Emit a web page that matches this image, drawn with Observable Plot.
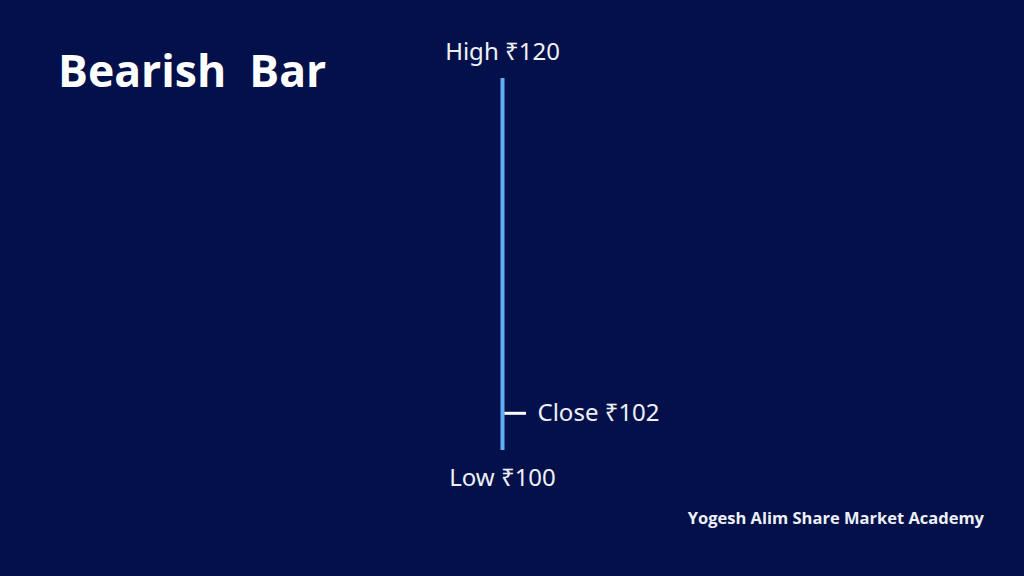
<!DOCTYPE html>
<html>
<head>
<meta charset="utf-8">
<script src="https://cdn.jsdelivr.net/npm/d3@7"></script>
<script src="https://cdn.jsdelivr.net/npm/@observablehq/plot@0.6"></script>
<style>
  html, body { margin: 0; padding: 0; background: #03104a; }
  #wrap { position: relative; width: 1024px; height: 576px; overflow: hidden; background: #03104a; }
  #title { position: absolute; left: 58px; top: 43px; font-family: "Open Sans", sans-serif; font-weight: 700; font-size: 44.5px; color: #ffffff; white-space: pre; line-height: 1.2; }
  #credit { position: absolute; right: 40px; top: 506px; font-family: "Open Sans", sans-serif; font-weight: 700; font-size: 16.5px; color: #eef0f8; white-space: pre; }
  #chart { position: absolute; left: 0; top: 0; }
</style>
</head>
<body>
<div id="wrap">
  <div id="chart"></div>
  <div id="title">Bearish  Bar</div>
  <div id="credit">Yogesh Alim Share Market Academy</div>
</div>
<script>
const labels = ["High", "Low", "Close"];
const prices = [120, 100, 102];
const currency = "₹";

const bar = { high: prices[0], low: prices[1], close: prices[2] };
const data = [bar];

const plot = Plot.plot({
  width: 1024,
  height: 576,
  margin: 0,
  style: { background: "transparent", fontFamily: "'Noto Sans', sans-serif", overflow: "visible" },
  x: { type: "linear", domain: [0, 1], range: [502, 526], axis: null },
  y: { type: "linear", domain: [bar.low, bar.high], range: [450, 78], axis: null },
  marks: [
    Plot.ruleX(data, { x: 0, y1: "low", y2: "high", stroke: "#62aef6", strokeWidth: 4 }),
    Plot.ruleY(data, { y: "close", x1: 0.1, x2: 1, stroke: "#ffffff", strokeWidth: 3 }),
    Plot.text(data, { x: 0, y: "high", text: d => `${labels[0]} ${currency}${d.high}`, dy: -26, fill: "#eef0f8", fontSize: 24, textAnchor: "middle" }),
    Plot.text(data, { x: 0, y: "low", text: d => `${labels[1]} ${currency}${d.low}`, dy: 28, fill: "#eef0f8", fontSize: 24, textAnchor: "middle" }),
    Plot.text(data, { x: 1, y: "close", text: d => `${labels[2]} ${currency}${d.close}`, dx: 11, fill: "#eef0f8", fontSize: 24, textAnchor: "start" })
  ]
});
document.getElementById("chart").appendChild(plot);
</script>
</body>
</html>
